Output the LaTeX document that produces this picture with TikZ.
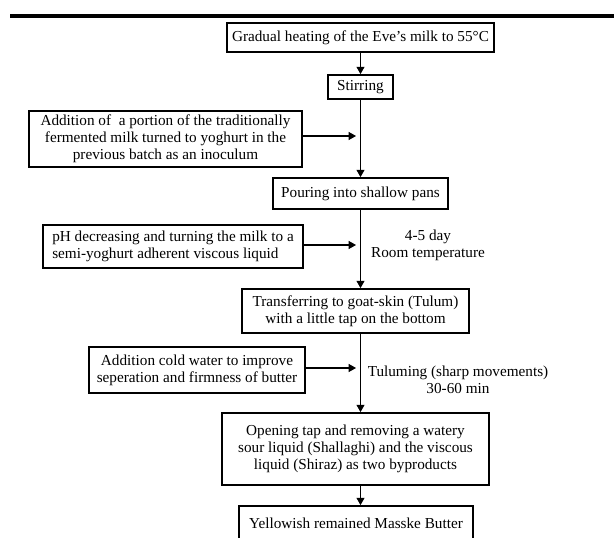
\documentclass[tikz,border=0pt]{standalone}
\usepackage{fontspec}
\setmainfont{Liberation Serif}
\usetikzlibrary{arrows.meta}

\begin{document}
\begin{tikzpicture}[
  stepbox/.style={draw, line width=1.5pt, align=center, inner sep=0pt, font=\fontsize{13}{14.5}\selectfont},
  note/.style={align=center, inner sep=0pt, font=\fontsize{13}{14.5}\selectfont},
  arr/.style={line width=0.9pt, -{Triangle[length=0.22cm,width=0.24cm]}}]
  \useasboundingbox (0,0) rectangle (18.42,-16.14);
  \clip (0,0) rectangle (18.42,-16.14);
  \fill (0.30,-0.42) rectangle (18.42,-0.53);
  % main steps
  \node[stepbox, minimum width=8.01cm, minimum height=0.87cm] (heat) at (10.815,-1.125) {Gradual heating of the Eve's milk to 55°C};
  \node[stepbox, minimum width=1.95cm, minimum height=0.72cm] (stir) at (10.815,-2.61) {Stirring};
  \node[stepbox, minimum width=5.25cm, minimum height=0.93cm] (pour) at (10.815,-5.805) {Pouring into shallow pans};
  \node[stepbox, minimum width=6.81cm, minimum height=1.32cm] (tulum) at (10.665,-9.33) {Transferring to goat-skin (Tulum)\\with a little tap on the bottom};
  \node[stepbox, minimum width=8.01cm, minimum height=2.16cm] (open) at (10.665,-13.47) {Opening tap and removing a watery\\sour liquid (Shallaghi) and the viscous\\liquid (Shiraz) as two byproducts};
  \node[stepbox, minimum width=7.02cm, minimum height=1.02cm] (butter) at (10.68,-15.69) {Yellowish remained Masske Butter};
  % side inputs
  \node[stepbox, minimum width=8.19cm, minimum height=1.68cm] (inoc) at (4.965,-4.17) {Addition of \ a portion of the traditionally\\fermented milk turned to yoghurt in the\\previous batch as an inoculum};
  \node[stepbox, align=left, minimum width=7.8cm, minimum height=1.29cm] (ph) at (5.19,-7.395) {pH decreasing and turning the milk to a\\semi-yoghurt adherent viscous liquid};
  \node[stepbox, minimum width=6.48cm, minimum height=1.38cm] (water) at (5.91,-11.1) {Addition cold water to improve\\seperation and firmness of butter};
  % conditions
  \node[note] (days) at (12.84,-7.365) {4-5 day\\Room temperature};
  \node[note] (shake) at (13.74,-11.4) {Tuluming (sharp movements)\\30-60 min};
  % connectors
  \coordinate (j1) at (10.68,-4.08);
  \coordinate (j2) at (10.68,-7.35);
  \coordinate (j3) at (10.68,-11.04);
  \draw[arr] (heat.south) -- (stir.north);
  \draw[arr] (stir.south) -- (pour.north);
  \draw[arr] (pour.south) -- (pour.south |- tulum.north);
  \draw[arr] (tulum.south -| pour) -- (open.north -| pour);
  \draw[arr] (open.south -| pour) -- (butter.north -| pour);
  \draw[arr] (inoc.east |- j1) -- (j1);
  \draw[arr] (ph.east |- j2) -- (j2);
  \draw[arr] (water.east |- j3) -- (j3);
\end{tikzpicture}
\end{document}
